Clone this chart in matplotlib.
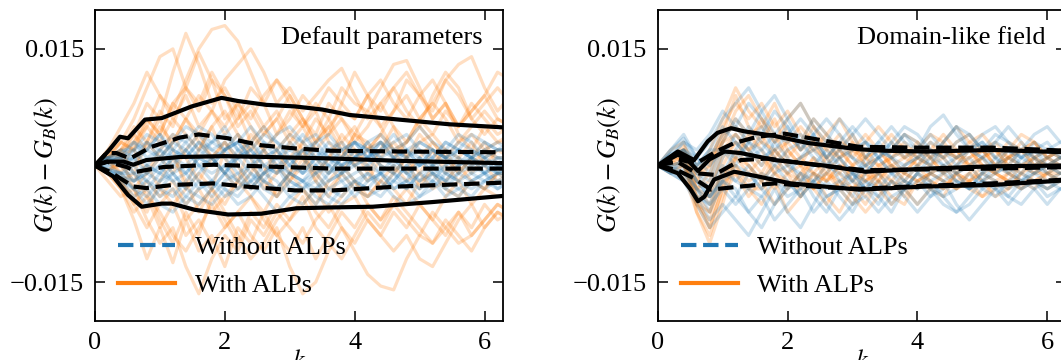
import matplotlib
matplotlib.use("Agg")
import numpy as np
import matplotlib.pyplot as plt

# sample points (k) for the individual realisations
k_grid = [0.0, 0.2, 0.4, 0.6, 0.8, 1.0, 1.2, 1.4, 1.6, 1.8, 2.0, 2.2, 2.4, 2.6, 2.8, 3.0,
          3.2, 3.4, 3.6, 3.8, 4.0, 4.2, 4.4, 4.6, 4.8, 5.0, 5.2, 5.4, 5.6, 5.8, 6.0, 6.2, 6.4]

# ---- left panel: default parameters (values in units of 1e-3) ----
left_with = [
    [0, 1.5, 3, 2, 5, 9, 7, 11, 15, 17.5, 18, 16, 12, 8, 4, 6, 9, 7, 3, 1, 4, 7, 5, 2, 3, 6, 8, 6, 3, 5, 7, 5, 4],
    [0, 2, 1, 4, 8, 6, 12, 17, 13, 8, 10, 7, 3, 5, 2, -1, 3, 6, 4, 8, 12, 9, 5, 7, 11, 9, 6, 8, 4, 2, 5, 3, 4],
    [0, 1, 3, 6, 10, 14, 15, 10, 7, 11, 9, 5, 7, 4, 6, 9, 6, 3, 6, 10, 8, 7, 10, 13, 13.5, 10, 6, 8, 5, 7, 9, 6, 5],
    [0, -1, 2, 5, 3, 7, 5, 10, 14.5, 11, 6, 8, 5, 2, 4, 7, 5, 8, 6, 3, 5, 2, 4, 7, 9, 6, 8, 11, 13, 14, 10, 7, 9],
    [0, 1, -1, 3, 6, 4, 8, 6, 9, 7, 11, 13, 15, 12, 8, 10, 7, 9, 11, 12.5, 9, 6, 8, 5, 3, 6, 4, 7, 5, 8, 6, 4, 5],
    [0, 2, 5, 8, 12, 9, 6, 9, 5, 7, 4, 6, 8, 5, 7, 4, 6, 3, 5, 7, 6, 9, 11, 8, 6, 9, 7, 11, 9, 6, 8, 10, 8],
    [0, -1, -3, -6, -4, -8, -5, -9, -7, -10, -8, -6, -9, -11, -8, -13, -16.5, -15, -11, -8, -10, -7, -9, -6, -8, -5, -7, -9, -6, -8, -5, -7, -6],
    [0, -2, -4, -3, -7, -10, -8, -13, -16.5, -12, -9, -11, -7, -9, -6, -8, -10, -7, -5, -8, -11, -14, -15.5, -16, -12, -9, -10, -7, -9, -11, -8, -6, -7],
    [0, -1, -3, -7, -12, -8, -12.5, -7, -11, -9, -13, -8, -10, -6, -9, -11, -8, -12, -9, -6, -8, -5, -7, -4, -6, -8, -10, -8, -6, -9, -7, -5, -6],
    [0, 1, -2, -5, -3, -7, -10, -6, -9, -4, -7, -10, -6, -8, -5, -7, -4, -8, -10, -12, -9, -6, -8, -5, -7, -9, -6, -8, -10, -9, -7, -5, -6],
    [0, 1, 3, 2, 6, 4, 8, 10, 8, 12, 9, 6, 10, 8, 11, 9, 6, 4, 8, 6, 3, 5, 8, 10, 7, 5, 9, 12, 10, 6, 4, 6, 5],
    [0, -1, -2, -5, -8, -5, -3, -7, -5, -3, -6, -9, -12, -10, -7, -5, -3, -6, -8, -5, -4, -7, -9, -11, -9, -12, -13, -10, -7, -5, -8, -6, -7],
    [0, 1, 2, -1, 3, 6, 2, -3, 2, 5, 1, -2, 3, 0, -4, -1, 2, -2, 1, 4, 2, -1, 2, 5, 1, -3, 0, 2, -1, 1, 3, 0, 1],
    [0, -1, 1, -3, -6, -2, 1, -2, -6, -3, 2, 4, 1, -3, -1, 3, 1, -2, -4, -1, 2, 0, -3, -1, 1, 4, 2, -1, 1, 3, 0, -2, -1],
    [0, 1, 2, 4, 2, 5, 3, 6, 4, 7, 5, 8, 6, 9, 11, 8, 5, 7, 10, 8, 6, 9, 7, 10, 12, 9, 11, 8, 5, 7, 9, 12, 11],
    [0, -1, -2, -1, -4, -6, -9, -11, -8, -5, -8, -6, -4, -7, -9, -7, -5, -3, -6, -4, -2, -5, -7, -5, -3, -5, -7, -4, -2, -5, -3, -4, -4],
    [0, 0.5, -1, -3, -1, 2, 4, 1, -2, 1, 3, 0, -3, -1, 2, 4, 2, -1, 1, 3, 0, -2, 1, 3, 1, -1, 2, 0, -2, 0, 2, 1, 1],
    [0, 1, 2, 3, 5, 3, 6, 4, 2, 5, 7, 4, 2, 4, 6, 3, 5, 2, 4, 6, 4, 2, 3, 1, 3, 5, 3, 1, 3, 4, 2, 3, 3],
    [0, -1, -2, -4, -2, -4, -2, -5, -3, -6, -4, -2, -4, -6, -3, -1, -3, -5, -2, 0, -2, -4, -2, -3, -5, -2, -1, -3, -4, -2, -3, -1, -2],
    [0, 0.5, 1, 0, 3, 1, -1, 2, 4, 1, -1, -3, -1, 2, 0, -2, 0, 3, 5, 2, 0, 2, 4, 2, -1, 1, 3, 1, -1, 1, 0, 2, 1],
    [0, -0.5, 0, -2, 0, -3, -5, -3, -1, -3, -5, -2, 0, -2, -4, -2, 1, -1, -3, -1, -3, -4, -2, 0, -2, -1, -3, -2, 0, -2, -3, -1, -1],
    [0, 1, 1.5, 2, -1, 1, 3, 6, 3, 1, 3, 1, 4, 2, -1, 1, 3, 1, -1, 1, 4, 3, 0, -1, 1, 3, 4, 2, 1, -1, 1, 2, 2],
]
left_without = [
    [0, 1, 2, 1, 3, 2, 4, 3, 5, 4, 2, 3, 5, 3, 1, 2, 4, 2, 0, 2, 3, 1, 2, 4, 2, 0, 1, 3, 2, 1, 2, 3, 2],
    [0, -1, -2, -3, -2, -4, -3, -5, -3, -2, -4, -3, -1, -3, -4, -2, -3, -5, -3, -2, -4, -2, -1, -3, -2, -4, -3, -1, -2, -3, -2, -1, -2],
    [0, 0.5, 1, -1, 0, 2, 1, -1, 1, 3, 2, 0, -2, 0, 1, -1, 0, 2, 1, -1, 0, 1, -1, -2, 0, 1, -1, 0, 2, 1, -1, 0, 0],
    [0, 1, 0, -2, -1, 1, 3, 5, 4, 2, 3, 1, 2, 4, 3, 1, -1, 1, 3, 2, 0, 1, 3, 1, -1, 0, 2, 1, 0, 2, 1, -1, 0],
    [0, -0.5, -1, 0, -2, -3, -1, 0, -2, -4, -2, -1, -3, -1, 0, -2, -3, -1, 1, 0, -2, -3, -1, 0, -1, -3, -2, 0, 1, -1, -2, -1, -1],
    [0, 0.5, 1.5, 0.5, 2, 4, 2, 1, 3, 1, -1, 1, 3, 5, 3, 2, 1, 3, 4, 2, 3, 1, 2, 3, 4, 2, 1, 3, 2, 4, 3, 2, 3],
    [0, -1, -1, -3, -5, -3, -4, -2, 0, -2, -3, -5, -4, -2, -3, -1, -2, -4, -5, -3, -2, -3, -4, -2, -3, -1, -2, -4, -3, -2, -3, -2, -2],
    [0, 1, 0, 1, -1, 0, -2, -1, 1, 0, 2, 4, 2, 0, -1, 1, 2, 0, -2, -1, 1, 3, 1, 0, 2, 1, -1, -2, 0, 1, 0, 1, 1],
    [0, 0, -1, -2, 0, -1, 1, 2, 0, -1, 0, -2, -3, -1, 1, 3, 1, -1, 0, -2, -1, 0, 2, 1, -1, -2, 0, 2, 1, 0, -1, 0, 0],
    [0, 1, 1.5, 3, 1, 2, 0, 2, 4, 3, 5, 2, 0, 2, 4, 5, 3, 4, 2, 0, 1, 3, 4, 2, 3, 5, 3, 2, 4, 3, 1, 2, 2],
    [0, -0.5, -2, -4, -3, -5, -6, -4, -5, -3, -1, -3, -2, -4, -6, -4, -3, -2, -4, -5, -3, -1, -2, -4, -5, -4, -2, -3, -4, -2, -1, -3, -2],
    [0, 0.5, 0, 2, 3, 1, -1, -3, -1, 1, -1, 2, 1, -1, 0, -3, -2, 0, -1, 1, 3, 2, 0, -1, -3, -1, 0, -2, -1, 1, 0, -1, 0],
    [0, 0.5, 1, 2, 0, -1, 1, 0, 2, 1, -1, 1, 2, 0, -1, 0, 2, 1, -1, 0, 1, 2, 0, -1, 1, 0, 2, 1, -1, 0, 1, 0, 0],
    [0, -0.5, -1, -1, -3, -1, -2, -4, -2, -3, -1, -2, 0, -2, -3, -1, -2, -1, -3, -4, -2, -1, -3, -2, 0, -2, -1, -3, -1, -2, -1, -2, -1],
    [0, 1, 2, 2, 4, 3, 2, 4, 2, 3, 4, 2, 3, 1, 2, 4, 3, 1, 2, 3, 1, 2, 3, 1, 2, 3, 2, 1, 2, 1, 3, 2, 2],
    [0, -1, -1.5, -2, -1, -2, 0, -1, -3, -2, 0, 1, -1, -2, 0, -1, -2, -3, -1, 1, 0, -2, -1, -3, -2, 1, 0, -1, -2, -1, 0, -1, -1],
    [0, 0, 0.5, 1, 2, 1, 3, 2, 0, 1, 2, 3, 1, 2, 0, 1, -1, 0, 2, 1, 3, 2, 1, 2, 1, 2, 0, 1, 2, 1, 2, 1, 1],
    [0, -0.5, -1.5, -3, -4, -2, -1, -3, -4, -5, -3, -4, -2, -1, -2, -4, -5, -3, -2, -1, -3, -4, -3, -1, -2, -3, -1, -2, -3, -4, -2, -3, -2],
    [0, 0.5, 1, -1, -2, 0, 2, 1, 3, 2, 1, -1, 0, 1, 2, 0, -1, 1, 0, -1, 1, 0, -1, 1, 2, 0, 1, -1, 0, 1, -1, 1, 0],
    [0, 1, 1, 3, 2, 4, 1, 3, 1, 0, 2, 3, 1, 3, 2, 0, 2, 3, 1, 0, 2, 1, 3, 2, 1, 3, 2, 1, 3, 2, 1, 2, 2],
]
# percentile curves (k, value*1e3)
left_with_hi_k = [0, 0.2, 0.385, 0.51, 0.77, 1.03, 1.49, 1.95, 2.2, 2.64, 3.08, 3.5, 3.92, 4.69, 5.46, 6.3]
left_with_hi = [0, 1.8, 3.7, 3.5, 5.9, 6.1, 7.6, 8.7, 8.3, 7.8, 7.6, 7.2, 6.5, 5.9, 5.3, 4.9]
left_with_med_k = [0, 0.2, 0.44, 0.59, 0.79, 1.31, 2.0, 2.64, 3.67, 4.69, 6.3]
left_with_med = [0, 0.5, 0.5, 0.1, 0.7, 1.1, 1.2, 1.1, 0.9, 0.6, 0.3]
left_with_lo_k = [0, 0.28, 0.51, 0.72, 1.03, 1.18, 1.54, 2.05, 2.56, 3.1, 3.6, 4.28, 5.2, 6.3]
left_with_lo = [0, -1.4, -3.8, -5.3, -4.9, -4.9, -5.7, -6.3, -6.2, -5.5, -5.4, -5.3, -4.7, -3.9]
left_wo_hi_k = [0, 0.18, 0.33, 0.54, 0.87, 1.31, 1.6, 2.05, 2.56, 3.08, 3.62, 4.69, 6.3]
left_wo_hi = [0, 1.6, 1.6, 0.9, 2.4, 3.6, 4.0, 3.5, 2.6, 2.2, 1.9, 1.8, 1.7]
left_wo_med_k = [0, 0.18, 0.49, 0.64, 1.05, 1.82, 2.9, 3.67, 6.3]
left_wo_med = [0, 0.5, -0.2, -0.8, -0.2, 0.1, -0.2, -0.4, -0.4]
left_wo_lo_k = [0, 0.23, 0.38, 0.59, 0.79, 1.2, 1.82, 2.31, 3.08, 3.67, 4.69, 6.3]
left_wo_lo = [0, -0.8, -1.6, -2.7, -2.9, -2.5, -2.3, -2.7, -3.2, -3.2, -2.7, -2.2]

# ---- right panel: domain-like field ----
right_with = [
    [0, 2, 3, -2, 2, 6, 10, 7, 5, 8, 4, 2, 5, 3, 1, 3, 0, -2, 1, 3, 1, 2, 4, 2, 0, 2, 3, 1, 2, 3, 1, 2, 2],
    [0, 1, 1, -6, -10, -5, 1, 4, 2, -1, 2, 0, -3, -1, 1, -2, -4, -2, 0, -2, -3, -1, 0, -2, -1, 1, -1, -2, 0, 1, -1, 0, 0],
    [0, 1, 2, -3, -2, 3, 7, 9, 6, 3, 6, 8, 5, 2, 4, 1, 3, 5, 3, 1, 2, 4, 3, 1, 3, 4, 2, 0, 2, 3, 1, 2, 2],
    [0, -1, 0, -4, -8, -3, 0, -3, -5, -2, -6, -4, -1, -4, -6, -3, -5, -2, -4, -5, -2, -3, -4, -1, -3, -4, -2, -3, -1, -2, -3, -2, -2],
    [0, 1, 1, -3, -1, 4, 5, 3, 6, 4, 1, 3, 6, 4, 2, 4, 1, -1, 2, 4, 3, 1, 3, 5, 3, 2, 0, 2, 4, 3, 1, 2, 2],
    [0, 0, 0.5, -5, -7, -2, 2, 0, -2, 1, -1, -4, -2, 0, -3, -5, -3, -1, -3, -2, 0, -2, -3, -1, 0, -2, -4, -3, -1, 0, -2, -1, -1],
    [0, 1, 2, -2, 0, 5, 8, 6, 8, 5, 7, 4, 2, 4, 6, 3, 1, 2, 4, 2, 0, 2, 1, 3, 4, 2, 1, 3, 2, 0, 1, 2, 2],
    [0, 0.5, 1, -4, -6, 0, 3, 1, -1, 2, 0, -2, 1, -1, -3, 0, 2, 0, -2, 0, 2, 1, -1, 0, 2, 0, -1, 1, 0, -1, 1, 0, 0],
    [0, 1, 1.5, -3, -4, 2, 4, 2, 4, 1, 3, 5, 3, 0, 2, 0, -2, 0, 1, -1, 1, 3, 1, -1, 1, 2, 0, 1, 3, 1, 0, 1, 1],
    [0, -0.5, -1, -6, -9, -4, -1, -4, -2, -5, -3, -1, -3, -5, -2, -4, -6, -4, -2, -3, -5, -3, -1, -3, -2, -4, -3, -1, -2, -3, -1, -2, -2],
    [0, 1, 2, -1, 1, 4, 9, 5, 3, 6, 2, 0, 3, 1, -1, 2, 4, 2, 0, 1, 3, 1, -1, 1, 2, 0, -1, 1, 2, 0, 1, 0, 1],
    [0, 0.5, 1, -5, -8, -3, 1, -1, 1, -1, -3, -1, 1, -2, 0, -2, -1, -3, -5, -3, -1, -2, -3, -1, -2, 0, -1, -2, -3, -1, 0, -1, -1],
    [0, 1, 1.5, -2, -3, 1, 3, 2, 0, 2, 3, 1, -1, 1, 2, 0, 1, 2, 0, -1, 1, 0, 1, 2, 0, 1, 2, 0, -1, 1, 2, 1, 1],
    [0, 0, 0.5, -3, -5, -1, 0, -2, -1, -3, -1, -2, -3, -1, -2, -3, -1, -2, -3, -1, -2, -1, -2, -3, -1, -2, -1, -2, -3, -2, -1, -2, -1],
    [0, 1, 2, -1, 0, 3, 6, 4, 5, 3, 4, 2, 3, 2, 1, 2, 0, 1, 2, 1, 0, 1, 2, 1, 0, 1, 2, 1, 0, 1, 2, 1, 1],
    [0, 0.5, 0, -4, -4, -1, 1, 0, -2, 0, -1, 0, -1, -2, 0, -1, -2, -1, 0, -1, -2, -1, 0, -1, -2, -1, 0, -1, 0, -1, -1, 0, 0],
    [0, 1, 2.5, 0, 1, 3, 4, 2, 3, 2, 0, 1, 2, 1, 3, 2, 1, 0, 1, 2, 1, 0, 2, 1, 1, 2, 0, 1, 2, 1, 0, 1, 1],
    [0, -0.5, 0, -5, -6, -2, -1, -3, -3, -1, -2, -3, -1, -2, -1, -3, -2, -1, -2, -4, -2, -1, -2, -3, -2, -1, -2, -1, -2, -2, -1, -1, -1],
]
right_without = [
    [0, 2, 4, 1, 3, 6, 8, 10, 7, 4, 6, 8, 5, 3, 6, 4, 1, 3, 5, 3, 2, 5, 6.5, 4, 2, 4, 5, 3, 2, 4, 5, 3, 3],
    [0, -1, -2, -4, -7, -5, -7, -9, -6, -3, -6, -8, -5, -2, -4, -6, -3, -5, -2, -4, -6, -4, -2, -5, -7, -5, -3, -4, -2, -3, -5, -3, -3],
    [0, 1, 3, 0, 2, 5, 3, 1, 4, 7, 5, 2, 4, 1, 3, 5, 3, 1, 2, 4, 2, 0, 3, 5, 2, 1, 3, 2, 0, 2, 3, 1, 2],
    [0, -1, 1, -2, -4, -2, -4, -1, -3, -5, -3, -1, -4, -6, -3, -1, -3, -2, -5, -3, -1, -2, -4, -3, -1, -3, -4, -2, -1, -2, -3, -2, -2],
    [0, 1, 2, -1, -3, 1, 4, 2, 0, 3, 1, -2, 0, 2, 0, -2, 1, 3, 1, -1, 0, 2, 1, -1, 0, 1, -1, 0, 2, 1, -1, 0, 0],
    [0, 0, -1, -4, -5, -1, 2, 5, 3, 1, -1, 1, 3, 1, -2, -4, -1, 1, -1, -3, -1, 1, 0, -2, -3, -1, 1, 0, -1, 1, 0, -1, -1],
    [0, 2, 3.5, 1, -1, 3, 6, 4, 7, 9, 6, 3, 6, 4, 2, 4, 6, 4, 2, 4, 3, 1, 3, 5, 4, 2, 3, 5, 3, 1, 2, 3, 2],
    [0, -0.5, 0, -3, -6, -2, -3, -6, -8, -5, -2, -4, -2, -5, -7, -5, -2, -4, -6, -3, -1, -3, -5, -6, -4, -2, -3, -5, -3, -2, -4, -3, -3],
    [0, 1, 2, 0, 2, 2, 0, 3, 5, 2, 4, 6, 4, 1, 3, 1, -1, 1, 3, 1, 2, 4, 2, 0, 2, 3, 1, -1, 1, 2, 0, 1, 1],
    [0, 0, 0.5, -2, -3, 0, -2, 0, -2, 0, -2, -4, -2, -1, 1, -1, -3, -1, 0, -2, -3, -1, 0, -1, -3, -2, 0, -1, -2, 0, -1, -2, -1],
    [0, 1.5, 3, 2, 4, 7, 5, 8, 6, 3, 5, 2, 4, 6, 4, 2, 3, 1, 3, 5, 4, 2, 1, 3, 4, 2, 4, 3, 1, 3, 2, 1, 2],
    [0, -1, -2, -5, -8, -6, -4, -6, -4, -7, -5, -3, -6, -4, -3, -5, -4, -6, -4, -3, -5, -3, -4, -6, -5, -3, -2, -4, -5, -3, -2, -3, -3],
    [0, 1, 1.5, -1, -2, 2, 3, 1, 2, 0, 2, 3, 1, 0, 2, 1, 0, 2, 1, 0, 1, 2, 0, 1, 2, 1, 0, 2, 1, 0, 1, 0, 1],
    [0, -1, -0.5, -3, -4, -1, -2, -3, -1, -2, -3, -2, -1, -3, -2, -1, -2, -3, -1, -2, -3, -2, -1, -2, -3, -1, -2, -3, -2, -1, -2, -1, -1],
    [0, 1, 2, 0, 1, 4, 5, 3, 2, 4, 3, 4, 2, 3, 1, 2, 3, 2, 1, 2, 1, 3, 2, 1, 2, 3, 1, 2, 1, 2, 1, 2, 2],
    [0, 0, 0.5, -2, -4, -2, 0, -1, -3, -1, 0, -1, -2, 0, -1, -2, 0, -1, -3, -2, 0, -1, -2, -1, 0, -2, -1, 0, -2, -1, 0, -1, -1],
    [0, 1.5, 2, 1, 0, 2, 1, 3, 1, 2, 0, 1, 2, 0, 1, -1, 0, 1, -1, 0, 1, 0, -1, 0, 1, -1, 0, 1, 0, -1, 0, 1, 0],
    [0, -0.5, -1, -3, -5, -3, -5, -3, -4, -2, -4, -3, -2, -4, -3, -2, -3, -4, -2, -3, -2, -4, -3, -2, -3, -2, -3, -2, -3, -2, -3, -2, -2],
]
right_with_hi_k = [0, 0.31, 0.56, 0.77, 0.92, 1.13, 1.33, 1.8, 2.31, 3.08, 3.5, 4.14, 5.16, 6.3]
right_with_hi = [0, 1.8, 0.7, 3.1, 4.2, 4.8, 4.4, 3.8, 2.9, 2.1, 1.9, 1.8, 2.0, 1.7]
right_with_med_k = [0, 0.31, 0.45, 0.62, 0.8, 1.03, 1.28, 1.8, 2.56, 3.2, 4.14, 5.16, 6.3]
right_with_med = [0, 1.4, 0.8, -0.7, 0.8, 1.8, 1.6, 0.7, 0.0, -0.8, -0.4, -0.1, 0.0]
right_with_lo_k = [0, 0.31, 0.5, 0.62, 0.72, 0.87, 1.18, 1.54, 2.05, 2.56, 3.1, 4.14, 5.16, 6.3]
right_with_lo = [0, -1.0, -3.0, -4.6, -4.0, -1.8, -0.8, -1.4, -2.3, -2.7, -3.1, -2.7, -2.5, -1.9]
right_wo_hi_k = [0, 0.3, 0.6, 0.9, 1.18, 1.54, 1.95, 2.56, 3.1, 4.0, 5.16, 6.3]
right_wo_hi = [0, 0.8, 0.3, 1.8, 2.9, 3.7, 4.1, 3.2, 2.4, 2.3, 2.3, 1.9]
right_wo_med_k = [0, 0.3, 0.6, 0.87, 1.28, 1.69, 2.5, 3.2, 4.14, 5.16, 6.3]
right_wo_med = [0, 0.5, -1.0, -1.2, 0.7, 0.9, 0.0, -0.6, -0.5, -0.4, -0.2]
right_wo_lo_k = [0, 0.3, 0.55, 0.82, 1.28, 1.8, 2.56, 3.1, 4.14, 5.16, 6.3]
right_wo_lo = [0, -0.6, -1.6, -3.1, -2.7, -2.3, -2.8, -3.0, -2.6, -2.3, -1.8]

panel_titles = ["Default parameters", "Domain-like field"]

plt.rcParams['font.family'] = ['Liberation Serif', 'DejaVu Serif']
plt.rcParams['mathtext.fontset'] = 'stix'
plt.rcParams['font.size'] = 19

orange = '#ff7f0e'
blue = '#1f77b4'
s = 1e-3

fig = plt.figure(figsize=(10.61, 3.6), dpi=100)
ax_l = fig.add_axes([0.0895, 0.1083, 0.3845, 0.8639])
ax_r = fig.add_axes([0.6199, 0.1083, 0.3845, 0.8639])

panels = [
    (ax_l, left_with, left_without,
     [(left_with_hi_k, left_with_hi), (left_with_med_k, left_with_med), (left_with_lo_k, left_with_lo)],
     [(left_wo_hi_k, left_wo_hi), (left_wo_med_k, left_wo_med), (left_wo_lo_k, left_wo_lo)]),
    (ax_r, right_with, right_without,
     [(right_with_hi_k, right_with_hi), (right_with_med_k, right_with_med), (right_with_lo_k, right_with_lo)],
     [(right_wo_hi_k, right_wo_hi), (right_wo_med_k, right_wo_med), (right_wo_lo_k, right_wo_lo)]),
]

for (ax, with_lines, wo_lines, with_pct, wo_pct), title in zip(panels, panel_titles):
    k = np.array(k_grid)
    for ys in with_lines:
        ax.plot(k, np.array(ys) * s, color=orange, alpha=0.25, lw=2.3, solid_joinstyle='round')
    for ys in wo_lines:
        ax.plot(k, np.array(ys) * s, color=blue, alpha=0.22, lw=2.3, solid_joinstyle='round')
    for kk, ys in with_pct:
        ax.plot(kk, np.array(ys) * s, color='k', lw=3)
    for kk, ys in wo_pct:
        ax.plot(kk, np.array(ys) * s, color='k', lw=3, ls='--')

    # legend proxies
    ax.plot([], [], color=blue, ls='--', lw=3, label='Without ALPs')
    ax.plot([], [], color=orange, lw=3, label='With ALPs')
    ax.legend(loc='lower left', frameon=False, handlelength=2.16, handletextpad=0.75,
              labelspacing=0.55, borderpad=0, borderaxespad=0,
              bbox_to_anchor=(0.056, 0.077))

    ax.text(0.95, 0.91, title, transform=ax.transAxes, ha='right', va='center')

    ax.set_xlim(0, 2 * np.pi)
    ax.set_ylim(-0.02, 0.02)
    ax.set_xticks([0, 2, 4, 6])
    ax.set_yticks([-0.015, 0.015])
    ax.tick_params(direction='in', top=True, right=True, length=7, width=1.1, pad=8)
    for sp in ax.spines.values():
        sp.set_linewidth(1.3)
    ax.set_xlabel(r'$k$', labelpad=-3)
    ax.set_ylabel(r'$G(k) - G_B(k)$')
    ax.yaxis.set_label_coords(-0.085, 0.5)

plt.savefig('out.png', dpi=100)
plt.close()
